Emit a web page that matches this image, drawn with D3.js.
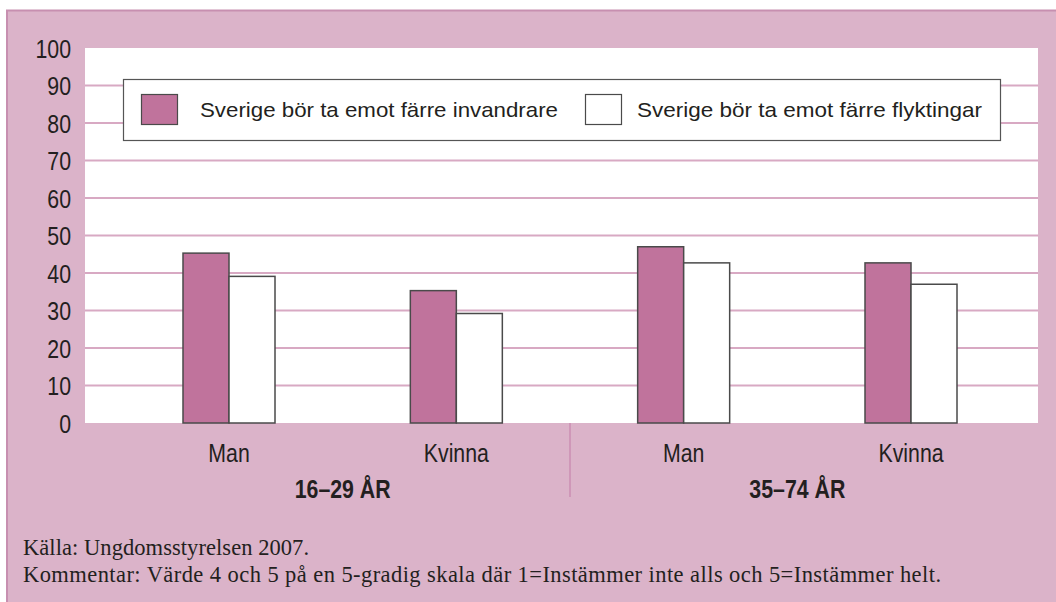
<!DOCTYPE html>
<html>
<head>
<meta charset="utf-8">
<script src="https://cdn.jsdelivr.net/npm/d3@7"></script>
<style>
  html, body { margin: 0; padding: 0; background: #fff; }
  svg { display: block; }
</style>
</head>
<body>
<svg id="chart"></svg>
<script>
// data
const categories = ["Man", "Kvinna", "Man", "Kvinna"];
const ageGroups = ["16–29 ÅR", "35–74 ÅR"];
const groupOf = [0, 0, 1, 1];
const seriesNames = ["Sverige bör ta emot färre invandrare", "Sverige bör ta emot färre flyktingar"];
const invandrare = [45.3, 35.3, 47.0, 42.7];
const flyktingar = [39.1, 29.2, 42.7, 37.0];
const yTicks = [0, 10, 20, 30, 40, 50, 60, 70, 80, 90, 100];
const source = "Källa: Ungdomsstyrelsen 2007.";
const comment = "Kommentar: Värde 4 och 5 på en 5-gradig skala där 1=Instämmer inte alls och 5=Instämmer helt.";

const width = 1056, height = 602;
const plot = { left: 85, right: 1038, top: 48, bottom: 423 };

const sans = '"Liberation Sans", Arial, sans-serif';
const serif = '"Liberation Serif", "Times New Roman", serif';
const narrow = "scale(0.82,1)"; // squeeze Arial-metric text into a narrow cut
const ink = "#231f20";
const bg = "#dbb3c9";
const pink = "#c0739c";
const gridColor = "#d8a9c3";

const svg = d3.select("#chart")
    .attr("width", width)
    .attr("height", height);

// pink panel with border on top and left
svg.append("rect")
    .attr("x", 7).attr("y", 10)
    .attr("width", width - 7).attr("height", height - 10)
    .attr("fill", bg);
svg.append("path")
    .attr("d", `M7,${height}V10.5H${width}`)
    .attr("fill", "none")
    .attr("stroke", "#c78fb0")
    .attr("stroke-width", 2);

// white plot area
svg.append("rect")
    .attr("x", plot.left).attr("y", plot.top)
    .attr("width", plot.right - plot.left).attr("height", plot.bottom - plot.top)
    .attr("fill", "#fff");

const keys = categories.map((c, i) => ageGroups[groupOf[i]] + " " + c);

const y = d3.scaleLinear()
    .domain([0, 100])
    .range([plot.bottom, plot.top]);

const x = d3.scalePoint()
    .domain(keys)
    .range([229, 911]);

const xs = d3.scaleBand()
    .domain([0, 1])
    .range([-46, 46]);

// gridlines
svg.append("g")
    .selectAll("line")
    .data(yTicks.filter(t => t > 0 && t < 100))
    .enter().append("line")
    .attr("x1", plot.left).attr("x2", plot.right)
    .attr("y1", d => y(d)).attr("y2", d => y(d))
    .attr("stroke", gridColor)
    .attr("stroke-width", 2);

// y axis labels
const yAxis = d3.axisLeft(y).tickValues(yTicks).tickSize(0).tickPadding(0);
const yg = svg.append("g")
    .attr("transform", `translate(71,0)`)
    .call(yAxis);
yg.select(".domain").remove();
yg.selectAll("text")
    .attr("font-family", sans)
    .attr("font-size", 26)
    .attr("fill", ink)
    .attr("x", 0)
    .attr("dy", "0.36em")
    .attr("transform", narrow);

// bars
const rows = keys.map((k, i) => ({ key: k, values: [invandrare[i], flyktingar[i]] }));
const groups = svg.append("g")
    .selectAll("g")
    .data(rows)
    .enter().append("g")
    .attr("transform", d => `translate(${x(d.key)},0)`);

groups.selectAll("rect")
    .data(d => d.values.map((v, s) => ({ v: v, s: s })))
    .enter().append("rect")
    .attr("x", d => xs(d.s))
    .attr("width", xs.bandwidth())
    .attr("y", d => y(d.v))
    .attr("height", d => y(0) - y(d.v))
    .attr("fill", d => d.s === 0 ? pink : "#fff")
    .attr("stroke", "#4a4a4a")
    .attr("stroke-width", 1.5);

// category labels
svg.append("g")
    .selectAll("g")
    .data(keys)
    .enter().append("g")
    .attr("transform", d => `translate(${x(d)},462)`)
    .append("text")
    .attr("transform", narrow)
    .attr("text-anchor", "middle")
    .attr("font-family", sans)
    .attr("font-size", 26)
    .attr("fill", ink)
    .text((d, i) => categories[i]);

// age group labels
svg.append("g")
    .selectAll("g")
    .data(ageGroups)
    .enter().append("g")
    .attr("transform", (d, g) => {
        const members = keys.filter((k, i) => groupOf[i] === g);
        return `translate(${d3.mean(members, k => x(k))},498)`;
    })
    .append("text")
    .attr("transform", narrow)
    .attr("text-anchor", "middle")
    .attr("font-family", sans)
    .attr("font-size", 26)
    .attr("font-weight", "bold")
    .attr("fill", ink)
    .text(d => d);

// divider between age groups
const divX = (x(keys[1]) + x(keys[2])) / 2;
svg.append("line")
    .attr("x1", divX).attr("x2", divX)
    .attr("y1", plot.bottom).attr("y2", 497)
    .attr("stroke", "#cf97b8")
    .attr("stroke-width", 2);

// legend
const legend = svg.append("g");
legend.append("rect")
    .attr("x", 123.5).attr("y", 79.5)
    .attr("width", 877).attr("height", 61)
    .attr("fill", "#fff")
    .attr("stroke", "#555")
    .attr("stroke-width", 1.2);

const legendItems = [
    { sx: 141, tx: 200, tw: 358, fill: pink },
    { sx: 585, tx: 637, tw: 345, fill: "#fff" }
];
legendItems.forEach((it, i) => {
    legend.append("rect")
        .attr("x", it.sx + 0.5).attr("y", 94.5)
        .attr("width", 36).attr("height", 30)
        .attr("fill", it.fill)
        .attr("stroke", "#4a4a4a")
        .attr("stroke-width", 1.2);
    legend.append("text")
        .attr("x", it.tx)
        .attr("y", 117)
        .attr("font-family", sans)
        .attr("font-size", 21)
        .attr("fill", ink)
        .attr("textLength", it.tw)
        .attr("lengthAdjust", "spacingAndGlyphs")
        .text(seriesNames[i]);
});

// footnotes
svg.append("text")
    .attr("x", 23).attr("y", 555)
    .attr("font-family", serif)
    .attr("font-size", 22.5)
    .attr("fill", ink)
    .attr("textLength", 286)
    .attr("lengthAdjust", "spacing")
    .text(source);
svg.append("text")
    .attr("x", 23).attr("y", 582)
    .attr("font-family", serif)
    .attr("font-size", 22.5)
    .attr("fill", ink)
    .attr("textLength", 918)
    .attr("lengthAdjust", "spacing")
    .text(comment);
</script>
</body>
</html>
